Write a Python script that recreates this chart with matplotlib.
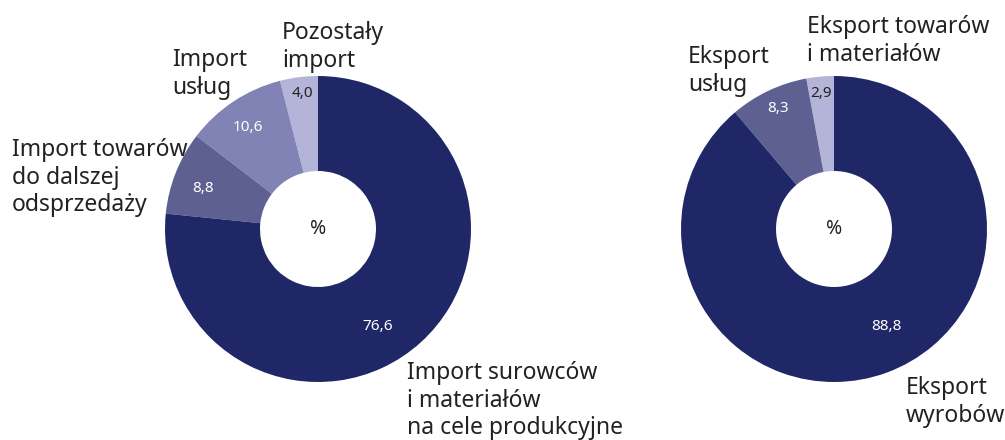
import matplotlib
matplotlib.use("Agg")
import matplotlib.pyplot as plt

# Data
import_labels = ["Pozostały\nimport", "Import\nusług", "Import towarów\ndo dalszej\nodsprzedaży",
                 "Import surowców\ni materiałów\nna cele produkcyjne"]
import_values = [4.0, 10.6, 8.8, 76.6]
export_labels = ["Eksport towarów\ni materiałów", "Eksport\nusług", "Eksport\nwyrobów"]
export_values = [2.9, 8.3, 88.8]
center_label = "%"

plt.rcParams['font.family'] = ['Noto Sans', 'DejaVu Sans']

W, H = 1005, 440
fig = plt.figure(figsize=(W / 100, H / 100), dpi=100)
ax = fig.add_axes([0, 0, 1, 1])

def Y(y):
    return H - y

def fmt(v):
    return f"{v:.1f}".replace(".", ",")

DARK = "#1f2767"
imp_colors = ["#b4b4d8", "#8183b4", "#5e6092", DARK]
exp_colors = ["#b4b4d8", "#5e6092", DARK]
R, r_in = 153, 58

def donut(cx, cy, values, colors):
    wedges, _ = ax.pie(values, colors=colors, startangle=90, counterclock=True,
                       radius=R, center=(cx, Y(cy)),
                       wedgeprops=dict(width=R - r_in, linewidth=0))
    return wedges

donut(318, 229, import_values, imp_colors)
donut(834, 229, export_values, exp_colors)

ax.set_xlim(0, W)
ax.set_ylim(0, H)
ax.set_aspect('auto')
ax.axis('off')

tc = "#222222"
lfs = 16.5
vfs = 11
ls = 1.2

# Category labels (left-aligned, top positions)
imp_label_pos = [(282, 21), (172, 48), (12, 138), (407, 361)]
exp_label_pos = [(807, 15), (688, 45), (906, 376)]
for lab, (x, y) in zip(import_labels, imp_label_pos):
    ax.text(x, Y(y), lab, ha='left', va='top', fontsize=lfs, color=tc, linespacing=ls)
for lab, (x, y) in zip(export_labels, exp_label_pos):
    ax.text(x, Y(y), lab, ha='left', va='top', fontsize=lfs, color=tc, linespacing=ls)

# Value labels
imp_val_pos = [(302, 93), (248, 127), (203, 188), (378, 326)]
imp_val_col = [tc, "white", "white", "white"]
for v, (x, y), c in zip(import_values, imp_val_pos, imp_val_col):
    ax.text(x, Y(y), fmt(v), ha='center', va='center', fontsize=vfs, color=c)
exp_val_pos = [(821, 93), (778, 108), (886, 326)]
exp_val_col = [tc, "white", "white"]
for v, (x, y), c in zip(export_values, exp_val_pos, exp_val_col):
    ax.text(x, Y(y), fmt(v), ha='center', va='center', fontsize=vfs, color=c)

for cx in (318, 834):
    ax.text(cx, Y(229), center_label, ha='center', va='center', fontsize=14, color=tc)

fig.savefig("out.png", dpi=100, facecolor="white")
